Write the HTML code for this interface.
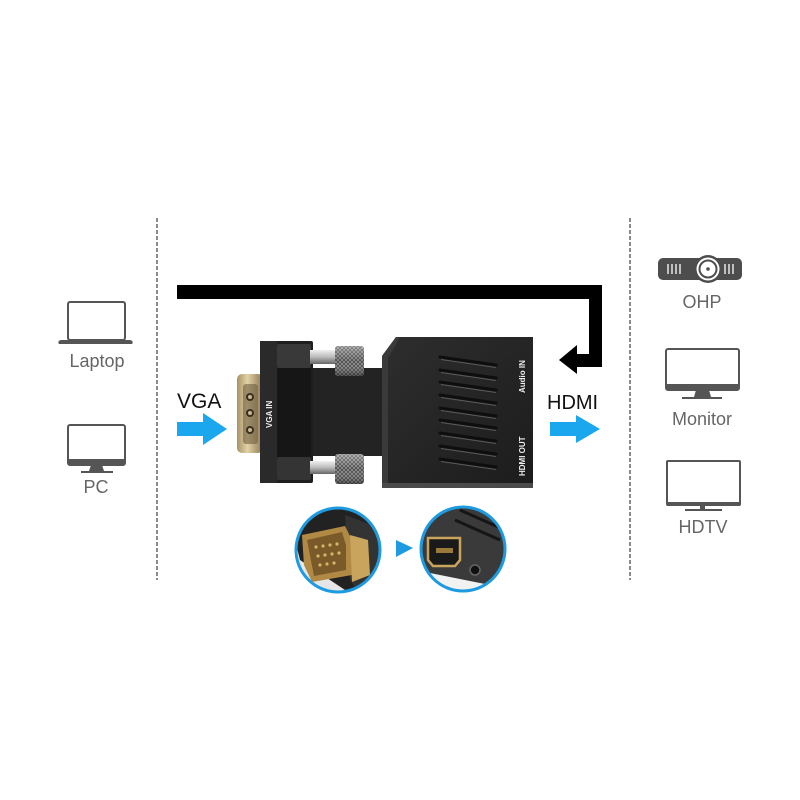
<!DOCTYPE html>
<html><head><meta charset="utf-8"><style>
html,body{margin:0;padding:0;background:#fff;}
svg{display:block;}
text{font-family:"Liberation Sans",Arial,sans-serif;}
</style></head><body>
<svg width="800" height="800" viewBox="0 0 800 800" xmlns="http://www.w3.org/2000/svg">
<defs>
  <linearGradient id="gold" x1="0" y1="0" x2="1" y2="0">
    <stop offset="0" stop-color="#a89266"/><stop offset="0.4" stop-color="#e2d2a8"/><stop offset="1" stop-color="#8c7650"/>
  </linearGradient>
  <linearGradient id="shaft" x1="0" y1="0" x2="0" y2="1">
    <stop offset="0" stop-color="#f0f0f0"/><stop offset="0.5" stop-color="#bbb"/><stop offset="1" stop-color="#666"/>
  </linearGradient>
  <pattern id="knurl" width="4" height="4" patternUnits="userSpaceOnUse">
    <rect width="4" height="4" fill="#9a9a9a"/>
    <path d="M0,0 L4,4 M4,0 L0,4" stroke="#4a4a4a" stroke-width="1"/>
  </pattern>
  <linearGradient id="body" x1="0" y1="0" x2="1" y2="1">
    <stop offset="0" stop-color="#2e2e2e"/><stop offset="1" stop-color="#1c1c1c"/>
  </linearGradient>
  <linearGradient id="knshade" x1="0" y1="0" x2="0" y2="1">
    <stop offset="0" stop-color="#fff" stop-opacity="0.35"/><stop offset="0.5" stop-color="#fff" stop-opacity="0"/><stop offset="1" stop-color="#000" stop-opacity="0.35"/>
  </linearGradient>
  <clipPath id="c1"><circle cx="338" cy="550" r="42"/></clipPath>
  <clipPath id="c2"><circle cx="463" cy="549" r="42"/></clipPath>
</defs>

<rect width="800" height="800" fill="#fff"/>

<!-- dashed separators -->
<line x1="157" y1="218" x2="157" y2="580" stroke="#8a8a8a" stroke-width="2" stroke-dasharray="4 2"/>
<line x1="630" y1="218" x2="630" y2="580" stroke="#8a8a8a" stroke-width="2" stroke-dasharray="4 2"/>

<!-- black L arrow -->
<path d="M177,285 H602 V367 H577 V374 L559,360 L577,345 V354 H589 V299 H177 Z" fill="#000"/>

<!-- left icons -->
<rect x="68" y="302" width="57" height="38" rx="2" fill="none" stroke="#555" stroke-width="2"/>
<path d="M61,340 H130 Q134,341 132,344 H59 Q57,341 61,340 Z" fill="#555"/>
<text x="97" y="367" font-size="18" fill="#666" text-anchor="middle">Laptop</text>

<rect x="68" y="425" width="57" height="40" rx="2" fill="none" stroke="#555" stroke-width="2"/>
<rect x="68" y="459" width="57" height="6" fill="#555"/>
<path d="M91,465 H102 L104,471 H89 Z" fill="#555"/>
<rect x="81" y="471" width="32" height="2" fill="#555"/>
<text x="96" y="493" font-size="18" fill="#666" text-anchor="middle">PC</text>

<!-- right icons -->
<rect x="658" y="258" width="84" height="22" rx="5" fill="#4d4d4d"/>
<g stroke="#fff" stroke-width="1.3">
  <line x1="668" y1="264" x2="668" y2="274"/><line x1="672" y1="264" x2="672" y2="274"/><line x1="676" y1="264" x2="676" y2="274"/><line x1="680" y1="264" x2="680" y2="274"/>
  <line x1="725" y1="264" x2="725" y2="274"/><line x1="729" y1="264" x2="729" y2="274"/><line x1="733" y1="264" x2="733" y2="274"/>
</g>
<circle cx="708" cy="269" r="14" fill="#4d4d4d"/>
<circle cx="708" cy="269" r="11.5" fill="#fff"/>
<circle cx="708" cy="269" r="8.5" fill="none" stroke="#4d4d4d" stroke-width="2"/>
<circle cx="708" cy="269" r="1.8" fill="#4d4d4d"/>
<text x="702" y="308" font-size="18" fill="#666" text-anchor="middle">OHP</text>

<rect x="666" y="349" width="73" height="41" rx="2" fill="none" stroke="#555" stroke-width="2"/>
<rect x="666" y="384" width="73" height="6" fill="#555"/>
<path d="M696,390 H709 L711,397 H694 Z" fill="#555"/>
<rect x="682" y="397" width="40" height="2" fill="#555"/>
<text x="702" y="425" font-size="18" fill="#666" text-anchor="middle">Monitor</text>

<rect x="667" y="461" width="73" height="44" rx="1" fill="none" stroke="#555" stroke-width="2"/>
<rect x="667" y="502" width="73" height="4" fill="#555"/>
<rect x="700" y="506" width="5" height="4" fill="#555"/>
<rect x="685" y="509" width="37" height="2" fill="#555"/>
<text x="703" y="533" font-size="18" fill="#666" text-anchor="middle">HDTV</text>

<!-- labels and blue arrows -->
<text x="177" y="408" font-size="21" fill="#111">VGA</text>
<path d="M177,422 H203 V413 L227,429 L203,445 V436 H177 Z" fill="#1aa7ee"/>
<text x="547" y="409" font-size="20" fill="#111">HDMI</text>
<path d="M550,422 H576 V415 L600,429 L576,443 V436 H550 Z" fill="#1aa7ee"/>

<!-- device: VGA connector (gold) -->
<rect x="237" y="374" width="26" height="79" rx="5" fill="url(#gold)"/>
<rect x="243" y="384" width="15" height="60" rx="3" fill="#6e5e40" opacity="0.6"/>
<circle cx="250" cy="397" r="4" fill="#3a3020"/><circle cx="250" cy="397" r="2" fill="#c8b890"/>
<circle cx="250" cy="413" r="4" fill="#3a3020"/><circle cx="250" cy="413" r="2" fill="#c8b890"/>
<circle cx="250" cy="430" r="4" fill="#3a3020"/><circle cx="250" cy="430" r="2" fill="#c8b890"/>

<!-- neck -->
<rect x="308" y="368" width="80" height="88" fill="#232323"/>
<!-- VGA block -->
<rect x="260" y="341" width="53" height="142" rx="2" fill="#1e1e1e"/>
<rect x="260" y="341" width="17" height="142" fill="#2a2a2a"/>
<rect x="277" y="344" width="34" height="24" rx="2" fill="#393939"/>
<rect x="277" y="457" width="34" height="23" rx="2" fill="#343434"/>
<rect x="277" y="368" width="34" height="89" fill="#161616"/>
<text transform="translate(272,428) rotate(-90)" font-size="8" font-weight="bold" fill="#eee">VGA IN</text>

<!-- screws -->
<rect x="310" y="350" width="27" height="14" fill="url(#shaft)"/>
<rect x="335" y="346" width="29" height="30" rx="3" fill="url(#knurl)"/>
<rect x="335" y="346" width="29" height="30" rx="3" fill="url(#knshade)"/>
<rect x="310" y="461" width="27" height="13" fill="url(#shaft)"/>
<rect x="335" y="454" width="29" height="30" rx="3" fill="url(#knurl)"/>
<rect x="335" y="454" width="29" height="30" rx="3" fill="url(#knshade)"/>

<!-- HDMI body -->
<path d="M396,337 H533 V488 H382 V356 Z" fill="url(#body)"/>
<path d="M382,356 L396,337 H400 L388,358 V486 H382 Z" fill="#3a3a3a"/>
<rect x="382" y="483" width="151" height="5" fill="#4a4a4a"/>
<g>
  <g stroke="#0e0e0e" stroke-width="3" stroke-linecap="round">
    <line x1="440" y1="357" x2="496" y2="365"/>
    <line x1="440" y1="370" x2="496" y2="378"/>
    <line x1="440" y1="382" x2="496" y2="390"/>
    <line x1="440" y1="395" x2="496" y2="403"/>
    <line x1="440" y1="408" x2="496" y2="416"/>
    <line x1="440" y1="420" x2="496" y2="428"/>
    <line x1="440" y1="433" x2="496" y2="441"/>
    <line x1="440" y1="446" x2="496" y2="454"/>
    <line x1="440" y1="459" x2="496" y2="467"/>
  </g>
  <g stroke="#5a5a5a" stroke-width="1">
    <line x1="441" y1="359.5" x2="496" y2="367.5"/>
    <line x1="441" y1="372.5" x2="496" y2="380.5"/>
    <line x1="441" y1="384.5" x2="496" y2="392.5"/>
    <line x1="441" y1="397.5" x2="496" y2="405.5"/>
    <line x1="441" y1="410.5" x2="496" y2="418.5"/>
    <line x1="441" y1="422.5" x2="496" y2="430.5"/>
    <line x1="441" y1="435.5" x2="496" y2="443.5"/>
    <line x1="441" y1="448.5" x2="496" y2="456.5"/>
    <line x1="441" y1="461.5" x2="496" y2="469.5"/>
  </g>
</g>
<text transform="translate(525,393) rotate(-90)" font-size="8" font-weight="bold" fill="#eee">Audio IN</text>
<text transform="translate(525,476) rotate(-90)" font-size="8" font-weight="bold" fill="#eee">HDMI OUT</text>

<!-- bottom detail circles -->
<g clip-path="url(#c1)">
  <rect x="290" y="500" width="100" height="100" fill="#e6e6e6"/>
  <path d="M290,520 L330,505 L390,515 L390,590 L360,600 L300,560 Z" fill="#222"/>
  <path d="M345,515 L385,530 L385,565 L360,595 L350,580 Z" fill="#333"/>
  <path d="M302,535 L345,526 L352,540 L352,575 L312,582 L304,565 Z" fill="#b08a45"/>
  <path d="M307,540 L342,532 L346,545 L346,570 L314,576 Z" fill="#7a5a28"/>
  <g fill="#d6b56a">
    <circle cx="316" cy="547" r="1.6"/><circle cx="323" cy="546" r="1.6"/><circle cx="330" cy="545" r="1.6"/><circle cx="337" cy="544" r="1.6"/>
    <circle cx="318" cy="556" r="1.6"/><circle cx="325" cy="555" r="1.6"/><circle cx="332" cy="554" r="1.6"/><circle cx="339" cy="553" r="1.6"/>
    <circle cx="320" cy="565" r="1.6"/><circle cx="327" cy="564" r="1.6"/><circle cx="334" cy="563" r="1.6"/>
  </g>
  <path d="M350,535 L368,540 L370,575 L352,582 Z" fill="#c9a45c"/>
</g>
<circle cx="338" cy="550" r="42" fill="none" stroke="#1e9be0" stroke-width="3"/>

<polygon points="396,540 413,548 396,557" fill="#1e9be0"/>

<g clip-path="url(#c2)">
  <rect x="415" y="500" width="100" height="100" fill="#f2f2f2"/>
  <path d="M415,500 H515 V575 L490,585 L425,572 L415,560 Z" fill="#3a3a3a"/>
  <g stroke="#151515" stroke-width="3">
    <line x1="460" y1="510" x2="505" y2="530"/>
    <line x1="470" y1="505" x2="510" y2="522"/>
    <line x1="480" y1="500" x2="512" y2="514"/>
    <line x1="455" y1="520" x2="500" y2="540"/>
  </g>
  <path d="M428,538 H460 V560 L455,566 H433 L428,560 Z" fill="#1a1a1a" stroke="#c9a45c" stroke-width="2.5"/>
  <rect x="436" y="548" width="17" height="5" fill="#9a7a3a"/>
  <circle cx="475" cy="570" r="5" fill="#111" stroke="#666" stroke-width="1.5"/>
</g>
<circle cx="463" cy="549" r="42" fill="none" stroke="#1e9be0" stroke-width="3"/>

</svg>
</body></html>
